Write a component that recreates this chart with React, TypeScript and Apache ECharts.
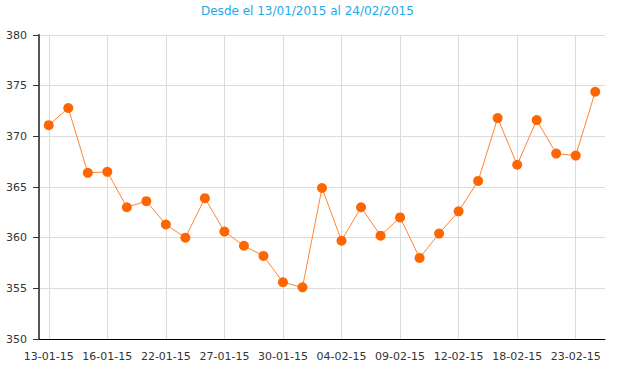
import React, { useEffect, useRef } from "react";
import * as echarts from "echarts";

const TITLE = "Desde el 13/01/2015 al 24/02/2015";

const dates = [
  "13-01-15", "14-01-15", "15-01-15", "16-01-15", "19-01-15", "20-01-15",
  "22-01-15", "23-01-15", "26-01-15", "27-01-15", "28-01-15", "29-01-15",
  "30-01-15", "02-02-15", "03-02-15", "04-02-15", "05-02-15", "06-02-15",
  "09-02-15", "10-02-15", "11-02-15", "12-02-15", "13-02-15", "16-02-15",
  "18-02-15", "19-02-15", "20-02-15", "23-02-15", "24-02-15",
];

const values = [
  371.1, 372.8, 366.4, 366.5, 363.0, 363.6, 361.3, 360.0, 363.9, 360.6,
  359.2, 358.2, 355.6, 355.1, 364.9, 359.7, 363.0, 360.2, 362.0, 358.0,
  360.4, 362.6, 365.6, 371.8, 367.2, 371.6, 368.3, 368.1, 374.4,
];

const Y_MIN = 350;
const Y_MAX = 380;
const Y_STEP = 5;

export default function App() {
  const ref = useRef<HTMLDivElement>(null);
  useEffect(() => {
    if (!ref.current) return;
    const chart = echarts.init(ref.current, null, { renderer: "svg" });
    const font = "DejaVu Sans, Verdana, sans-serif";
    chart.setOption({
      animation: false,
      title: {
        text: TITLE,
        left: 196,
        top: 0,
        textStyle: { color: "#22a9e8", fontSize: 12, fontWeight: "normal", fontFamily: font },
      },
      grid: { left: 39, right: 15, top: 35, bottom: 36 },
      xAxis: {
        type: "category",
        data: dates,
        boundaryGap: true,
        axisLine: { lineStyle: { color: "#000", width: 1 } },
        axisTick: { alignWithLabel: true, interval: 2, length: 5, lineStyle: { color: "#000" } },
        axisLabel: { interval: 2, color: "#333", fontSize: 11, fontFamily: font, margin: 12 },
        splitLine: { show: true, interval: 2, alignWithLabel: true, lineStyle: { color: "#dcdcdc", width: 1 } },
      },
      yAxis: {
        type: "value",
        min: Y_MIN,
        max: Y_MAX,
        interval: Y_STEP,
        axisLine: { show: true, lineStyle: { color: "#555", width: 2 } },
        axisTick: { show: true, length: 6, lineStyle: { color: "#333" } },
        axisLabel: { color: "#333", fontSize: 11, fontFamily: font, margin: 12 },
        splitLine: { show: true, lineStyle: { color: "#dcdcdc", width: 1 } },
      },
      series: [
        {
          type: "line",
          data: values,
          symbol: "circle",
          symbolSize: 10,
          itemStyle: { color: "#ff6600" },
          lineStyle: { color: "#ff8433", width: 1 },
        },
      ],
    });
    return () => chart.dispose();
  }, []);
  return <div ref={ref} style={{ width: 620, height: 375, position: "absolute", left: 0, top: 0 }} />;
}
